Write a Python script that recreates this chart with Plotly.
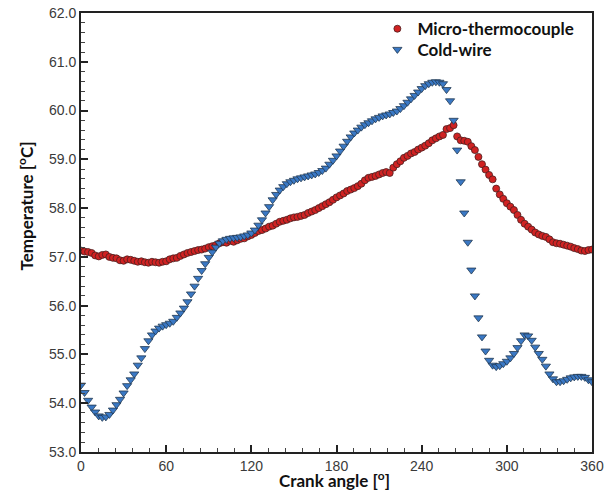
import plotly.graph_objects as go

angle = [0, 2.5, 5, 7.5, 10, 12.5, 15, 17.5, 20, 22.5, 25, 27.5, 30, 32.5, 35, 37.5, 40, 42.5, 45, 47.5,
         50, 52.5, 55, 57.5, 60, 62.5, 65, 67.5, 70, 72.5, 75, 77.5, 80, 82.5, 85, 87.5, 90, 92.5, 95, 97.5,
         100, 102.5, 105, 107.5, 110, 112.5, 115, 117.5, 120, 122.5, 125, 127.5, 130, 132.5, 135, 137.5, 140, 142.5, 145, 147.5,
         150, 152.5, 155, 157.5, 160, 162.5, 165, 167.5, 170, 172.5, 175, 177.5, 180, 182.5, 185, 187.5, 190, 192.5, 195, 197.5,
         200, 202.5, 205, 207.5, 210, 212.5, 215, 217.5, 220, 222.5, 225, 227.5, 230, 232.5, 235, 237.5, 240, 242.5, 245, 247.5,
         250, 252.5, 255, 257.5, 260, 262.5, 265, 267.5, 270, 272.5, 275, 277.5, 280, 282.5, 285, 287.5, 290, 292.5, 295, 297.5,
         300, 302.5, 305, 307.5, 310, 312.5, 315, 317.5, 320, 322.5, 325, 327.5, 330, 332.5, 335, 337.5, 340, 342.5, 345, 347.5,
         350, 352.5, 355, 357.5, 360]

micro_thermocouple = [
    57.13, 57.11, 57.10, 57.08, 57.03, 57.01, 57.04, 57.05, 57.00, 56.98,
    56.97, 56.93, 56.92, 56.95, 56.94, 56.92, 56.90, 56.91, 56.89, 56.88,
    56.90, 56.89, 56.88, 56.90, 56.91, 56.95, 56.97, 56.98, 57.02, 57.05,
    57.08, 57.10, 57.12, 57.14, 57.15, 57.17, 57.20, 57.22, 57.24, 57.28,
    57.30, 57.29, 57.33, 57.31, 57.34, 57.37, 57.38, 57.42, 57.45, 57.49,
    57.53, 57.55, 57.58, 57.62, 57.64, 57.68, 57.72, 57.74, 57.76, 57.79,
    57.81, 57.82, 57.84, 57.86, 57.90, 57.93, 57.96, 58.00, 58.04, 58.08,
    58.12, 58.17, 58.22, 58.26, 58.30, 58.35, 58.38, 58.41, 58.45, 58.50,
    58.57, 58.62, 58.64, 58.66, 58.69, 58.72, 58.74, 58.72, 58.83, 58.90,
    58.96, 59.03, 59.07, 59.12, 59.15, 59.20, 59.24, 59.28, 59.33, 59.39,
    59.43, 59.47, 59.50, 59.62, 59.64, 59.70, 59.47, 59.39, 59.38, 59.36,
    59.27, 59.19, 59.05, 58.90, 58.79, 58.68, 58.59, 58.40, 58.28, 58.19,
    58.10, 58.03, 57.96, 57.86, 57.76, 57.68, 57.62, 57.56, 57.50, 57.46,
    57.43, 57.41, 57.36, 57.30, 57.28, 57.27, 57.25, 57.23, 57.21, 57.18,
    57.16, 57.13, 57.12, 57.14, 57.15]

cold_wire = [
    54.37, 54.22, 54.06, 53.92, 53.82, 53.74, 53.71, 53.72, 53.77, 53.86,
    53.97, 54.08, 54.21, 54.36, 54.48, 54.60, 54.78, 54.93, 55.12, 55.28,
    55.40, 55.48, 55.54, 55.58, 55.61, 55.64, 55.68, 55.76, 55.85, 55.95,
    56.08, 56.24, 56.40, 56.56, 56.72, 56.86, 56.99, 57.10, 57.20, 57.28,
    57.33, 57.36, 57.38, 57.39, 57.40, 57.41, 57.43, 57.45, 57.49, 57.55,
    57.65, 57.76, 57.90, 58.03, 58.17, 58.28, 58.37, 58.44, 58.50, 58.54,
    58.57, 58.60, 58.62, 58.64, 58.66, 58.68, 58.70, 58.73, 58.77, 58.82,
    58.90, 58.98, 59.07, 59.17, 59.27, 59.37, 59.46, 59.54, 59.60, 59.66,
    59.71, 59.75, 59.79, 59.83, 59.86, 59.89, 59.91, 59.93, 59.96, 59.99,
    60.04, 60.10, 60.17, 60.24, 60.31, 60.38, 60.45, 60.51, 60.55, 60.58,
    60.59, 60.58, 60.55, 60.43, 60.20, 59.80, 59.19, 58.54, 57.90, 57.30,
    56.73, 56.20, 55.75, 55.36, 55.07, 54.88, 54.78, 54.75, 54.77, 54.81,
    54.86, 54.93, 55.02, 55.14, 55.28, 55.40, 55.38, 55.29, 55.15, 55.02,
    54.90, 54.76, 54.60, 54.50, 54.44, 54.44, 54.46, 54.49, 54.52, 54.54,
    54.55, 54.55, 54.53, 54.48, 54.44]

x_ticks = [0, 60, 120, 180, 240, 300, 360]
y_ticks = [53.0, 54.0, 55.0, 56.0, 57.0, 58.0, 59.0, 60.0, 61.0, 62.0]

fig = go.Figure()
fig.add_trace(go.Scatter(
    x=angle, y=micro_thermocouple, mode="markers", name="Micro-thermocouple",
    legend="legend",
    marker=dict(symbol="circle", size=7, color="#d02222",
                line=dict(color="#4a2020", width=0.8))))
fig.add_trace(go.Scatter(
    x=angle, y=cold_wire, mode="markers", name="Cold-wire",
    legend="legend2",
    marker=dict(symbol="triangle-down", size=8, color="#3a78c4",
                line=dict(color="#223850", width=0.8))))

tick_font = dict(family="Liberation Sans, Arial, sans-serif", size=14, color="#3a3a3a")
title_font = dict(family="Lato, Open Sans, sans-serif", size=17, color="#111111", weight="bold")
legend_font = dict(family="Lato, Open Sans, sans-serif", size=17, color="#111111", weight="bold")

fig.update_layout(
    width=604, height=492,
    margin=dict(l=81, r=12, t=12, b=40),
    paper_bgcolor="white", plot_bgcolor="white",
    showlegend=True,
    legend=dict(x=0.58, y=0.961, xanchor="left", yanchor="middle",
                bgcolor="rgba(0,0,0,0)", font=legend_font, itemwidth=30),
    legend2=dict(x=0.58, y=0.914, xanchor="left", yanchor="middle",
                 bgcolor="rgba(0,0,0,0)", font=legend_font, itemwidth=30),
    xaxis=dict(
        range=[0, 360], tickvals=x_ticks, ticktext=[str(v) for v in x_ticks],
        showgrid=False, zeroline=False, automargin=False, ticklabeloverflow="allow",
        showline=True, linecolor="#222222", linewidth=2, mirror=True,
        ticks="inside", ticklen=7, tickwidth=1.5, tickcolor="#222222",
        minor=dict(ticks="inside", dtick=12, ticklen=4, tickcolor="#444444", tickwidth=1),
        tickfont=tick_font,
    ),
    yaxis=dict(
        range=[53, 62], tickvals=y_ticks, ticktext=["%.1f" % v for v in y_ticks],
        showgrid=False, zeroline=False, automargin=False, ticklabeloverflow="allow",
        showline=True, linecolor="#222222", linewidth=2, mirror=True,
        ticks="inside", ticklen=7, tickwidth=1.5, tickcolor="#222222",
        minor=dict(ticks="inside", dtick=0.2, ticklen=4, tickcolor="#444444", tickwidth=1),
        tickfont=tick_font,
    ),
    annotations=[
        dict(text="Crank angle [<sup>o</sup>]", xref="paper", yref="paper",
             x=0.497, y=-0.062, xanchor="center", yanchor="middle",
             showarrow=False, font=title_font),
        dict(text="Temperature [<sup>o</sup>C]", xref="paper", yref="paper",
             x=-0.109, y=0.56, xanchor="center", yanchor="middle", textangle=-90,
             showarrow=False, font=title_font),
    ],
)

fig.write_html("out.html", config={"displayModeBar": False},
               post_script="document.body.style.margin='0';")
